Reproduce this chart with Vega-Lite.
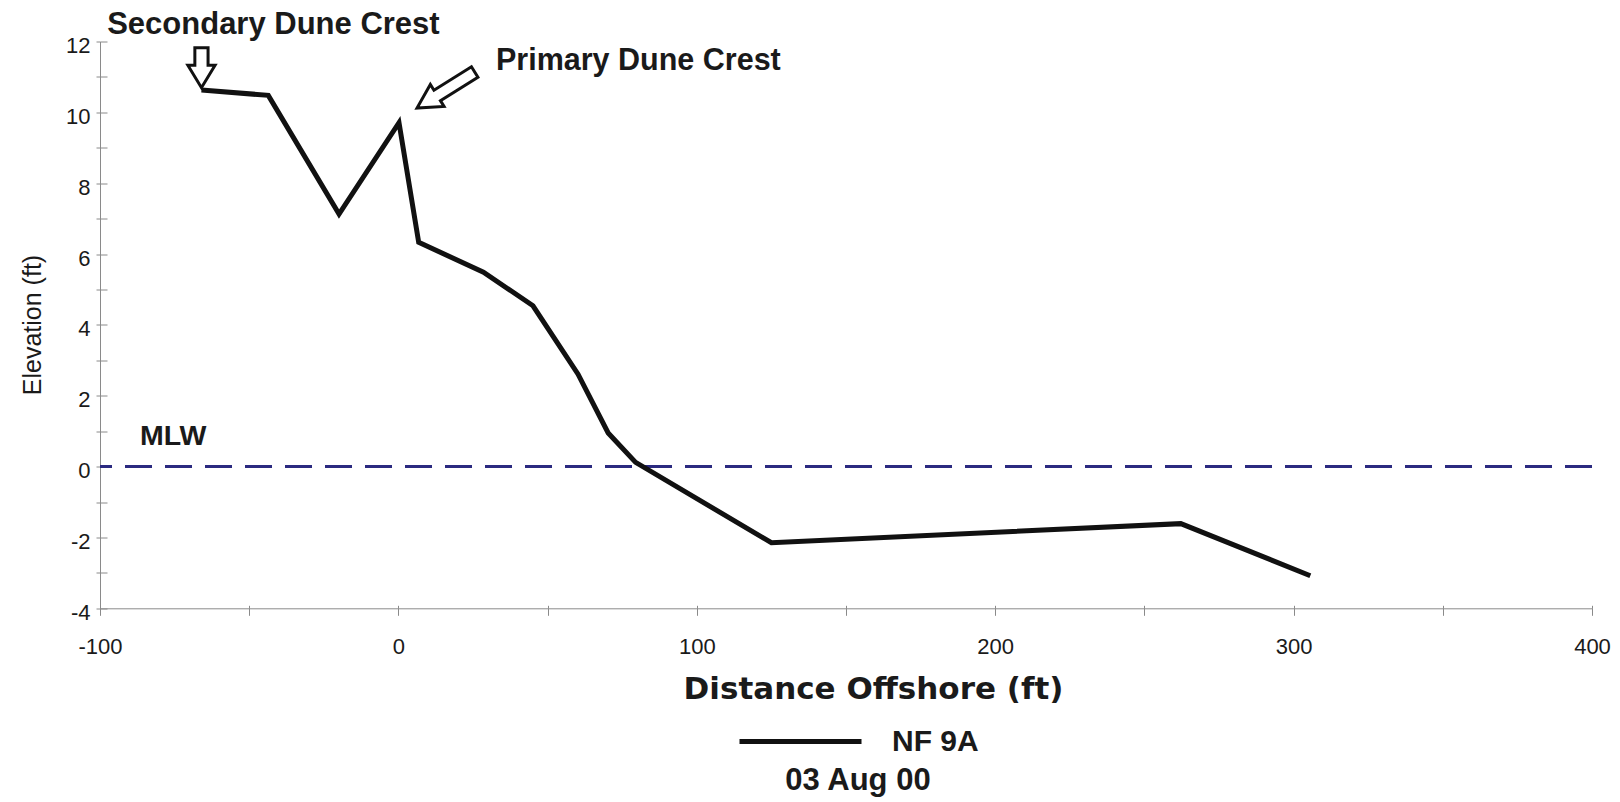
{
  "$schema": "https://vega.github.io/schema/vega-lite/v6.json",
  "width": 1492,
  "height": 566.8,
  "autosize": {"type": "none"},
  "padding": {"left": 100, "top": 41.5, "right": 28, "bottom": 193.7},
  "background": "white",
  "config": {
    "view": {"stroke": null},
    "font": "Liberation Sans"
  },
  "resolve": {"axis": {"x": "independent", "y": "independent"}},
  "layer": [
    {
      "data": {"values": [{"elevation": 0, "name": "MLW"}]},
      "mark": {"type": "rule", "color": "#2b2a80", "strokeWidth": 3, "strokeDash": [27, 13]},
      "encoding": {
        "y": {
          "field": "elevation", "type": "quantitative",
          "scale": {"domain": [-4, 12], "nice": false, "zero": false},
          "axis": {
            "orient": "left", "values": [-4,-3,-2,-1,0,1,2,3,4,5,6,7,8,9,10,11,12],
            "tickSize": -7, "tickColor": "#8a8a8a", "tickWidth": 1,
            "labels": false, "domain": false, "grid": false, "title": null
          }
        }
      }
    },
    {
      "data": {"values": [
        {"distance": -66.0, "elevation": 10.63, "profile": "NF 9A"},
        {"distance": -43.6, "elevation": 10.48, "profile": "NF 9A"},
        {"distance": -19.9, "elevation": 7.13, "profile": "NF 9A"},
        {"distance": 0.2, "elevation": 9.71, "profile": "NF 9A"},
        {"distance": 6.8, "elevation": 6.33, "profile": "NF 9A"},
        {"distance": 28.5, "elevation": 5.49, "profile": "NF 9A"},
        {"distance": 45.1, "elevation": 4.54, "profile": "NF 9A"},
        {"distance": 60.2, "elevation": 2.61, "profile": "NF 9A"},
        {"distance": 70.3, "elevation": 0.95, "profile": "NF 9A"},
        {"distance": 79.5, "elevation": 0.12, "profile": "NF 9A"},
        {"distance": 125.0, "elevation": -2.15, "profile": "NF 9A"},
        {"distance": 262.2, "elevation": -1.61, "profile": "NF 9A"},
        {"distance": 305.6, "elevation": -3.08, "profile": "NF 9A"}
      ]},
      "mark": {"type": "line", "strokeWidth": 5, "strokeJoin": "miter", "strokeCap": "butt"},
      "encoding": {
        "x": {
          "field": "distance", "type": "quantitative",
          "scale": {"domain": [-100, 400], "nice": false, "zero": false},
          "axis": {
            "orient": "bottom",
            "values": [-100,-50,0,50,100,150,200,250,300,350,400],
            "labelExpr": "datum.value % 100 === 0 ? '' + datum.value : ''",
            "tickSize": 7, "tickColor": "#8a8a8a", "tickWidth": 1,
            "domainColor": "#8a8a8a", "domainWidth": 1,
            "labelFont": "Liberation Sans", "labelFontSize": 22, "labelColor": "#1a1a1a",
            "labelPadding": 21, "labelFlush": false, "labelOverlap": false,
            "grid": false,
            "title": "Distance Offshore (ft)",
            "titleFont": "DejaVu Sans", "titleFontSize": 31, "titleFontWeight": "bold",
            "titleColor": "#1a1a1a", "titleX": 773, "titleY": 90.5,
            "titleBaseline": "alphabetic", "titleAlign": "center"
          }
        },
        "y": {
          "field": "elevation", "type": "quantitative",
          "scale": {"domain": [-4, 12], "nice": false, "zero": false},
          "axis": {
            "orient": "left",
            "values": [-4,-3,-2,-1,0,1,2,3,4,5,6,7,8,9,10,11,12],
            "labelExpr": "datum.value % 2 === 0 ? '' + datum.value : ''",
            "tickSize": 4, "tickColor": "#8a8a8a", "tickWidth": 1,
            "domainColor": "#8a8a8a", "domainWidth": 1,
            "labelFont": "Liberation Sans", "labelFontSize": 22, "labelColor": "#1a1a1a",
            "labelPadding": 6, "labelOffset": 4, "labelOverlap": false,
            "grid": false,
            "title": "Elevation (ft)",
            "titleFont": "Liberation Sans", "titleFontSize": 25, "titleFontWeight": "normal",
            "titleColor": "#1a1a1a", "titleX": -68, "titleY": 283,
            "titleAngle": -90, "titleBaseline": "middle", "titleAlign": "center"
          }
        },
        "color": {
          "field": "profile", "type": "nominal",
          "scale": {"range": ["#111111"]},
          "legend": {
            "orient": "none", "legendX": 637, "legendY": 636.5,
            "padding": 0,
            "symbolType": "stroke", "symbolSize": 14884, "symbolStrokeWidth": 5,
            "labelFont": "Liberation Sans", "labelFontSize": 30, "labelFontWeight": "bold",
            "labelColor": "#1a1a1a", "labelOffset": 28,
            "title": "03 Aug 00", "titleOrient": "bottom", "titleAnchor": "middle",
            "titleFont": "Liberation Sans", "titleFontSize": 31, "titleFontWeight": "bold",
            "titleColor": "#1a1a1a", "titlePadding": 9
          }
        }
      }
    },
    {
      "data": {"values": [{"distance": -66.0, "elevation": 11.26, "name": "Secondary arrow"}]},
      "mark": {
        "type": "point",
        "shape": "M-0.33,-1L0.33,-1L0.33,-0.12L0.68,-0.12L0,1L-0.68,-0.12L-0.33,-0.12Z",
        "size": 1600, "filled": true, "fill": "white", "stroke": "#111111",
        "strokeWidth": 3, "opacity": 1
      },
      "encoding": {
        "x": {
          "field": "distance", "type": "quantitative",
          "axis": {
            "orient": "bottom",
            "values": [-100,-50,0,50,100,150,200,250,300,350,400],
            "tickSize": -3, "tickColor": "#8a8a8a", "tickWidth": 1,
            "labels": false, "domain": false, "grid": false, "title": null
          }
        },
        "y": {"field": "elevation", "type": "quantitative", "axis": null}
      }
    },
    {
      "data": {"values": [{"distance": 15.9, "elevation": 10.63, "name": "Primary arrow"}]},
      "mark": {
        "type": "point",
        "shape": "M-0.18,-1L0.18,-1L0.18,0.3L0.38,0.3L0,1L-0.38,0.3L-0.18,0.3Z",
        "size": 4624, "angle": 58, "filled": true, "fill": "white", "stroke": "#111111",
        "strokeWidth": 3, "opacity": 1
      },
      "encoding": {
        "x": {"field": "distance", "type": "quantitative", "axis": null},
        "y": {"field": "elevation", "type": "quantitative", "axis": null}
      }
    },
    {
      "data": {"values": [{"distance": -97.6, "elevation": 12.22, "label": "Secondary Dune Crest"}]},
      "mark": {"type": "text", "align": "left", "baseline": "alphabetic", "font": "Liberation Sans", "fontSize": 31, "fontWeight": "bold", "color": "#1a1a1a"},
      "encoding": {
        "x": {"field": "distance", "type": "quantitative", "axis": null},
        "y": {"field": "elevation", "type": "quantitative", "axis": null},
        "text": {"field": "label"}
      }
    },
    {
      "data": {"values": [{"distance": 32.7, "elevation": 11.19, "label": "Primary Dune Crest"}]},
      "mark": {"type": "text", "align": "left", "baseline": "alphabetic", "font": "Liberation Sans", "fontSize": 30.5, "fontWeight": "bold", "color": "#1a1a1a"},
      "encoding": {
        "x": {"field": "distance", "type": "quantitative", "axis": null},
        "y": {"field": "elevation", "type": "quantitative", "axis": null},
        "text": {"field": "label"}
      }
    },
    {
      "data": {"values": [{"distance": -86.6, "elevation": 0.61, "label": "MLW"}]},
      "mark": {"type": "text", "align": "left", "baseline": "alphabetic", "font": "Liberation Sans", "fontSize": 28.5, "fontWeight": "bold", "color": "#1a1a1a"},
      "encoding": {
        "x": {"field": "distance", "type": "quantitative", "axis": null},
        "y": {"field": "elevation", "type": "quantitative", "axis": null},
        "text": {"field": "label"}
      }
    }
  ]
}
